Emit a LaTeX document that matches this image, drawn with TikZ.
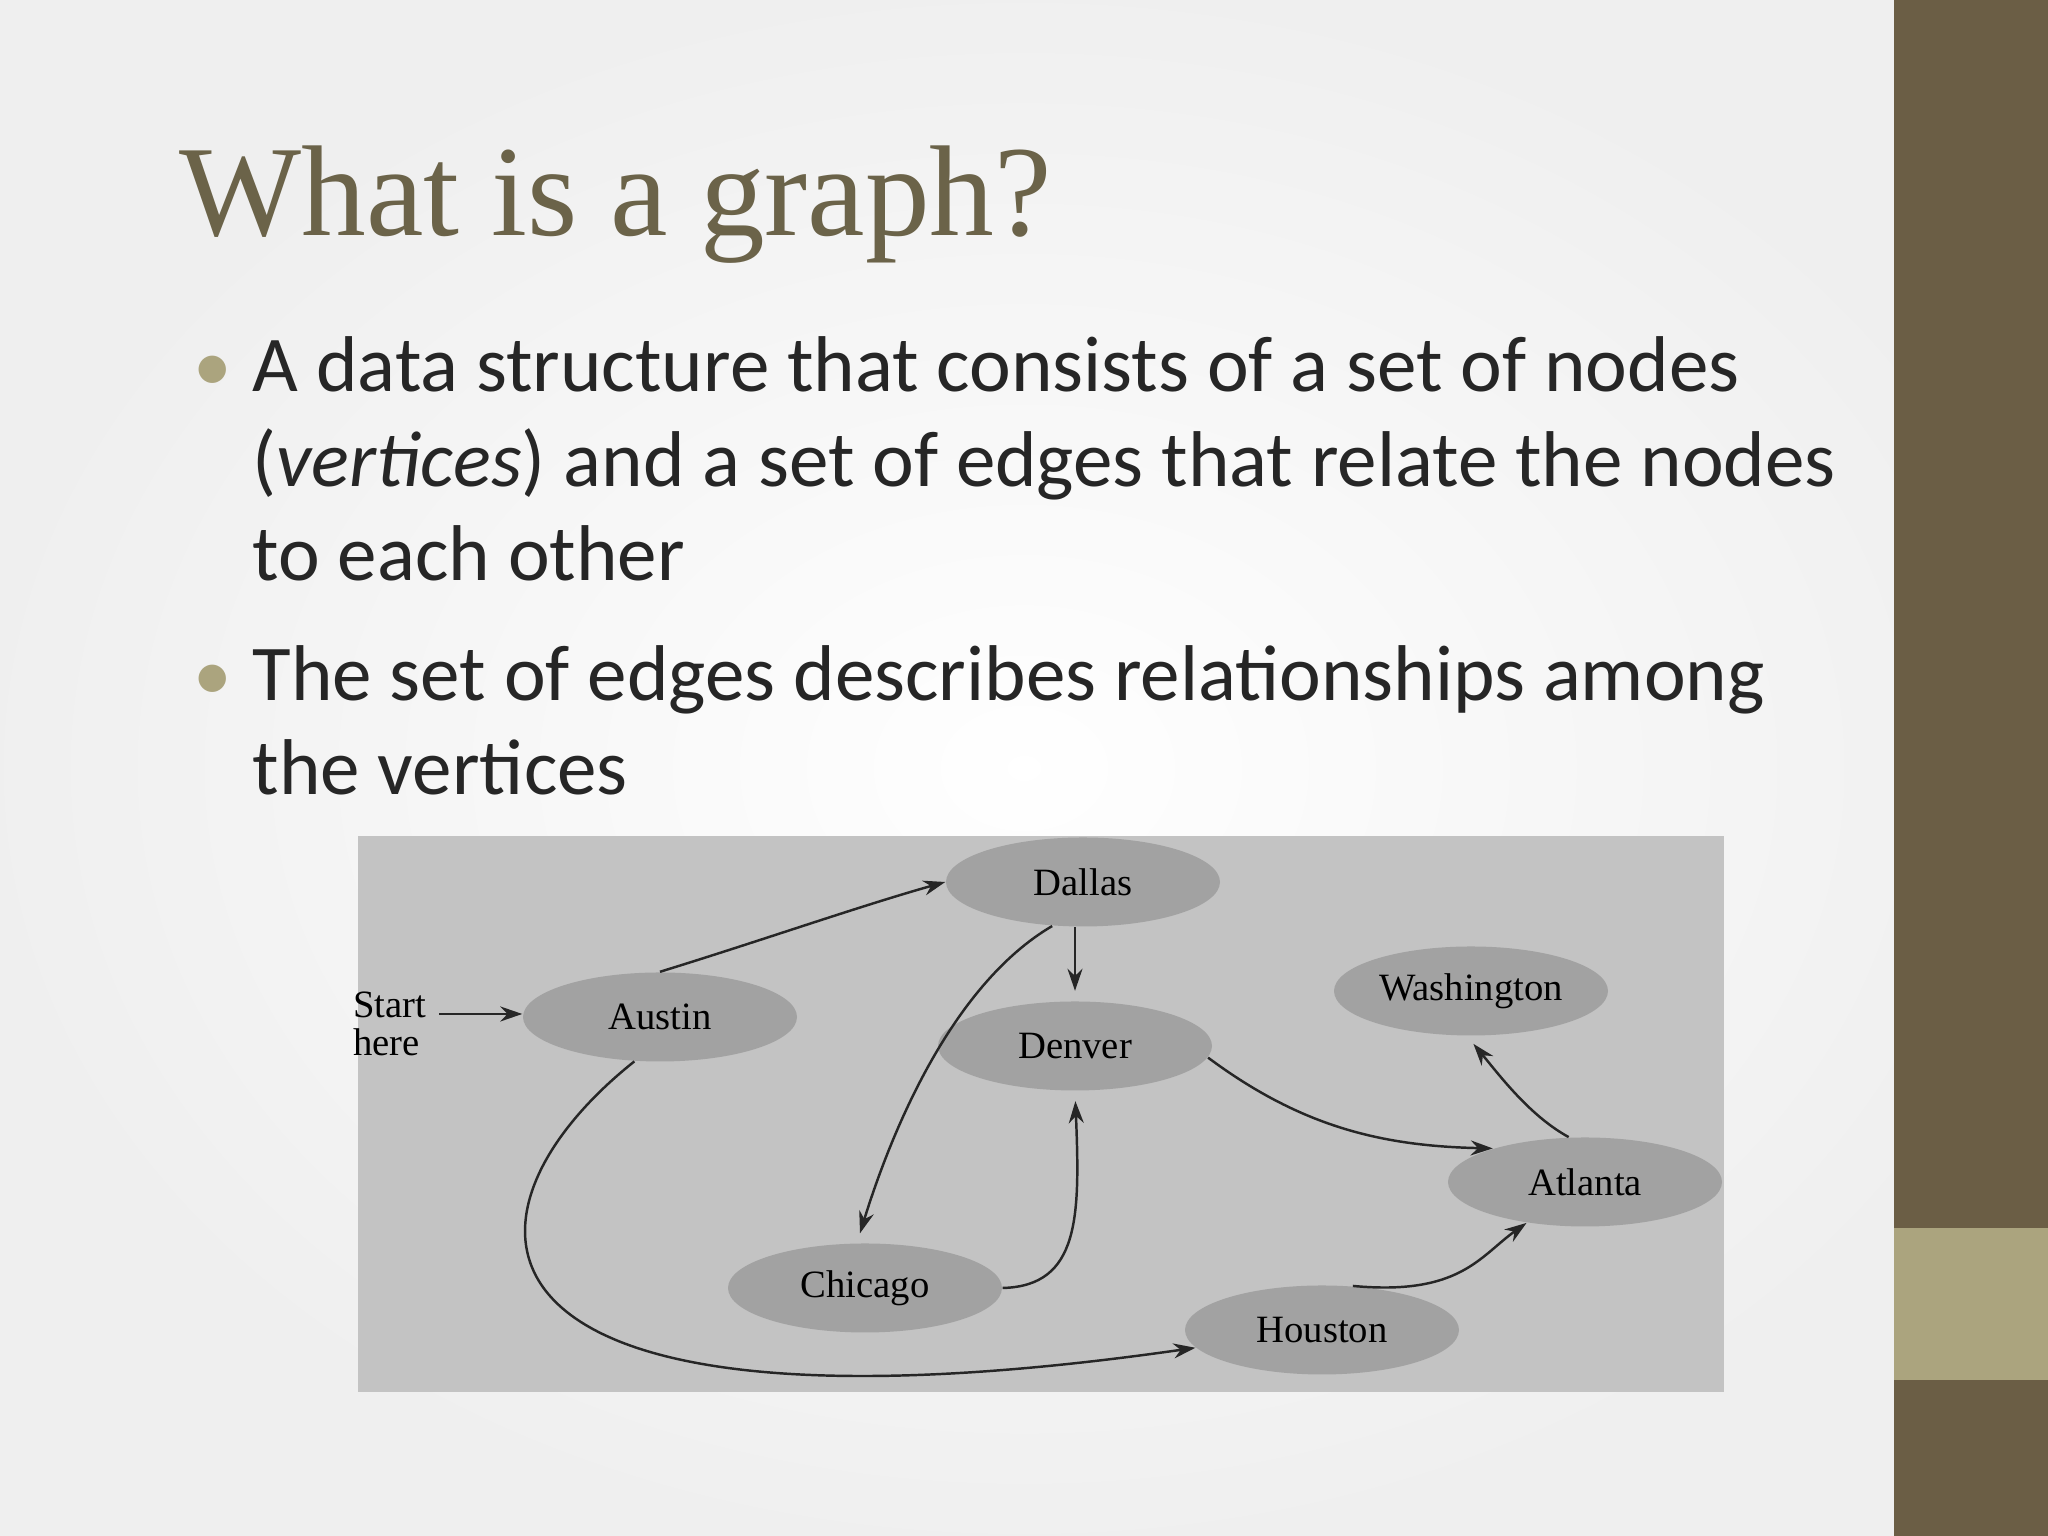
\documentclass[tikz,border=0pt]{standalone}
\usepackage{fontspec}
\setmainfont{Carlito}
\newfontfamily\serifg{Liberation Serif}
\usetikzlibrary{arrows.meta}
\definecolor{olive}{HTML}{6B5E45}
\definecolor{lolive}{HTML}{ABA47E}
\definecolor{titlec}{HTML}{6B6349}
\definecolor{panel}{HTML}{C3C3C3}
\definecolor{nodeg}{HTML}{A2A2A2}
\tikzset{
 city/.style={ellipse,fill=nodeg,minimum width=2.74cm,minimum height=0.89cm,inner sep=0pt,font=\serifg\fontsize{11}{13}\selectfont},
 edge/.style={-{Stealth[length=2.2mm,width=1.5mm]},line width=0.7pt,black!85},
 bline/.style={anchor=base west,font=\fontsize{22.5}{26}\selectfont,text=black!85,inner sep=0pt}
}
\usetikzlibrary{shapes.geometric}
\begin{document}
\begin{tikzpicture}[x=1cm,y=1cm]
\useasboundingbox (0,0) rectangle (20.48,15.36);
\shade[inner color=white,outer color=black!12] (0,0) rectangle (20.48,15.36);
\fill[white,opacity=0.5] (0,0) rectangle (20.48,15.36);
\fill[olive] (18.94,0) rectangle (20.48,15.36);
\fill[lolive] (18.94,1.56) rectangle (20.48,3.08);
\node[anchor=base west,inner sep=0pt,text=titlec] (title) at (1.79,13.0) {\resizebox{8.72cm}{!}{\serifg What is a graph?}};
\node[text=lolive,font=\fontsize{22}{26}\selectfont,anchor=base,inner sep=0pt] (b1) at (2.13,11.44) {•};
\node[text=lolive,font=\fontsize{22}{26}\selectfont,anchor=base,inner sep=0pt] (b2) at (2.13,8.35) {•};
\node[bline] (l1) at (2.52,11.44) {A data structure that consists of a set of nodes};
\node[bline] (l2) at (2.52,10.49) {(\textit{vertices}) and a set of edges that relate the nodes};
\node[bline] (l3) at (2.52,9.55) {to each other};
\node[bline] (l4) at (2.52,8.35) {The set of edges describes relationships among};
\node[bline] (l5) at (2.52,7.41) {the vertices};
\fill[panel] (3.58,1.44) rectangle (17.24,7.00);
\node[city] (Dallas) at (10.83,6.54) {Dallas};
\node[city] (Austin) at (6.60,5.19) {Austin};
\node[city] (Denver) at (10.75,4.90) {Denver};
\node[city] (Wash) at (14.71,5.45) {Washington};
\node[city] (Atlanta) at (15.85,3.54) {Atlanta};
\node[city] (Chicago) at (8.65,2.48) {Chicago};
\node[city] (Houston) at (13.22,2.06) {Houston};
\node[align=left,inner sep=0pt,font=\serifg\fontsize{11}{13}\selectfont] (start) at (3.90,5.12) {Start\\[-2pt]here};
\draw[edge] (start.east) ++(0.12,0.1) coordinate (s0) -- ([yshift=0pt]Austin.west |- s0);
\draw[edge] (Austin.north) .. controls (7.6,5.95) and (8.6,6.3) .. (Dallas.west);
\draw[edge,shorten >=1mm] (Dallas.south -| Denver.north) -- (Denver.north);
\draw[edge,shorten >=1mm] (Dallas.235) .. controls (9.5,5.5) and (8.9,4.0) .. (Chicago.100);
\draw[edge,shorten >=1mm] (Chicago.east) .. controls (10.8,2.5) and (10.8,3.2) .. (Denver.south);
\draw[edge] (Austin.240) .. controls (4.4,3.2) and (4.4,0.8) .. (Houston.188);
\draw[edge] (Denver.-5) .. controls (13.0,4.1) and (13.8,3.9) .. (Atlanta.160);
\draw[edge] (Houston.55) .. controls (14.6,2.4) and (14.8,2.8) .. (Atlanta.215);
\draw[edge,shorten >=1mm] (Atlanta.110) .. controls (15.3,4.2) and (15.0,4.6) .. (Wash.-95);
\end{tikzpicture}
\end{document}
